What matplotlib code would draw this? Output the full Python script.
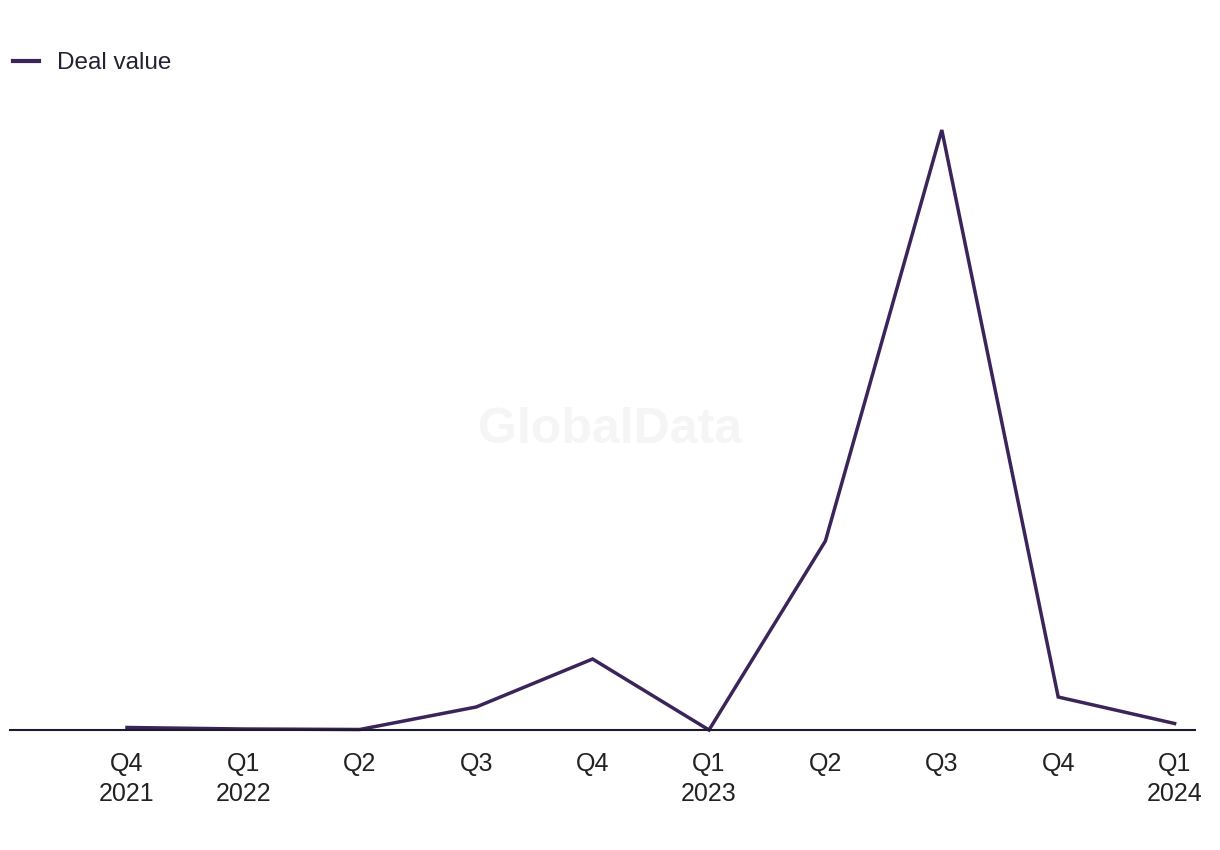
import matplotlib
matplotlib.use("Agg")
import matplotlib.pyplot as plt

quarters = ["Q4\n2021", "Q1\n2022", "Q2", "Q3", "Q4", "Q1\n2023", "Q2", "Q3", "Q4", "Q1\n2024"]
deal_value = [2.5, 1.0, 0.5, 23, 71, 0, 189, 600, 33, 6.5]

plt.rcParams['font.family'] = ['Liberation Sans', 'DejaVu Sans']

W, H = 1220, 850
fig = plt.figure(figsize=(W / 100, H / 100), dpi=100)
left_px, right_px, bottom_px, top_px = 10, 1195, 730, 100
ax = fig.add_axes([left_px / W, 1 - bottom_px / H, (right_px - left_px) / W, (bottom_px - top_px) / H])

line_color = "#3b2459"
xs = list(range(len(quarters)))
ax.plot(xs, deal_value, color=line_color, lw=2.5, solid_joinstyle="miter", label="Deal value", clip_on=False)

step = 116.4
ax.set_xlim((left_px - 127) / step, (right_px - 127) / step)
ax.set_ylim(0, 630)

for s in ["top", "right", "left"]:
    ax.spines[s].set_visible(False)
ax.spines["bottom"].set_color("#1c1a2e")
ax.spines["bottom"].set_linewidth(1.5)
ax.set_yticks([])
ax.set_xticks(xs)
ax.set_xticklabels(quarters, fontsize=18, color="#222222", linespacing=1.3)
ax.tick_params(axis="x", length=0, pad=16)

fig.text(610 / W, 1 - 430 / H, "GlobalData", fontsize=36, fontweight="bold",
         color="#f5f5f5", ha="center", va="center", zorder=0)

leg = fig.legend(loc="upper left", bbox_to_anchor=(6 / W, 1 - 45 / H), frameon=False,
                 fontsize=17.5, handlelength=1.05, handletextpad=0.75, borderaxespad=0, borderpad=0.3)
for t in leg.get_texts():
    t.set_color("#222233")
for h in leg.legend_handles:
    h.set_linewidth(3)

fig.savefig("out.png", dpi=100, facecolor="white")
